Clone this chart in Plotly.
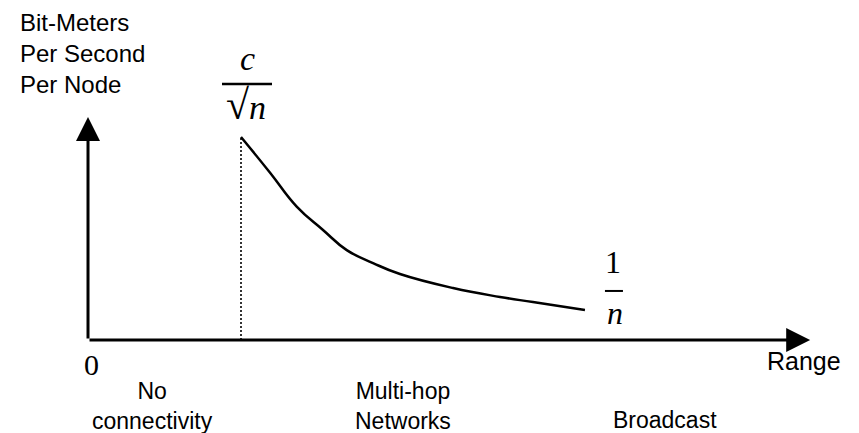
import plotly.graph_objects as go

# ---- data (normalised units: Range, throughput) ----
range_vals = [1.0, 1.19, 1.364, 1.536, 1.691, 1.863, 2.039, 2.386, 2.693, 2.908, 3.248]
throughput_vals = [1.0, 0.824, 0.657, 0.542, 0.443, 0.379, 0.325, 0.256, 0.212, 0.187, 0.148]
x_axis_end = 4.72      # tip of the Range arrow
y_axis_end = 1.0985    # tip of the throughput arrow
regime_labels = ["No<br>connectivity", "Multi-hop<br>Networks", "Broadcast"]
regime_x = [0.42, 2.06, 3.77]
y_label = "Bit-Meters<br>Per Second<br>Per Node"
x_label = "Range"

SANS = "Liberation Sans, Arial, Helvetica, sans-serif"
SERIF = "Liberation Serif, Times New Roman, serif"
BLACK = "#000000"

fig = go.Figure()

# dotted connectivity threshold
fig.add_trace(go.Scatter(x=[range_vals[0], range_vals[0]], y=[0, throughput_vals[0]],
                         mode="lines", line=dict(color="#333333", width=2, dash="2px,2px"),
                         hoverinfo="skip", showlegend=False))
# throughput curve
fig.add_trace(go.Scatter(x=range_vals, y=throughput_vals, mode="lines",
                         line=dict(color=BLACK, width=2.5, shape="spline", smoothing=1.3),
                         hoverinfo="skip", showlegend=False))

ann = []
# axes with arrowheads
for (tx, ty) in [(x_axis_end, 0), (0, y_axis_end)]:
    ann.append(dict(x=tx, y=ty, ax=0, ay=0, xref="x", yref="y", axref="x", ayref="y",
                    text="", showarrow=True, arrowhead=2, arrowsize=1.6, arrowwidth=3,
                    arrowcolor=BLACK, standoff=0))

# y label (top-left)
ann.append(dict(x=0, y=y_axis_end, xref="x", yref="y", text=y_label, showarrow=False,
                xanchor="left", yanchor="bottom", align="left", xshift=-70, yshift=17,
                font=dict(family=SANS, size=24, color=BLACK)))
# origin label
ann.append(dict(x=0, y=0, xref="x", yref="y", text="0", showarrow=False,
                xanchor="center", yanchor="middle", xshift=3, yshift=-24,
                font=dict(family=SERIF, size=30, color=BLACK)))
# Range label
ann.append(dict(x=x_axis_end, y=0, xref="x", yref="y", text=x_label, showarrow=False,
                xanchor="center", yanchor="middle", xshift=-6, yshift=-21,
                font=dict(family=SANS, size=25, color=BLACK)))

# c / sqrt(n) label at the start of the curve
x0c, y0c = range_vals[0], throughput_vals[0]
ann.append(dict(x=x0c, y=y0c, xref="x", yref="y", text="<i>c</i>", showarrow=False,
                xanchor="center", yanchor="middle", xshift=6, yshift=79,
                font=dict(family=SERIF, size=34, color=BLACK)))
ann.append(dict(x=x0c, y=y0c, xref="x", yref="y",
                text="<b><span style='font-size:42px'>√</span></b><i>n</i>", showarrow=False,
                xanchor="center", yanchor="middle", xshift=5, yshift=32,
                font=dict(family=SERIF, size=34, color=BLACK)))

# 1 / n label at the end of the curve
x1c, y1c = range_vals[-1], throughput_vals[-1]
ann.append(dict(x=x1c, y=y1c, xref="x", yref="y", text="1", showarrow=False,
                xanchor="center", yanchor="middle", xshift=28, yshift=48,
                font=dict(family=SERIF, size=32, color=BLACK)))
ann.append(dict(x=x1c, y=y1c, xref="x", yref="y", text="<i>n</i>", showarrow=False,
                xanchor="center", yanchor="middle", xshift=30, yshift=-3,
                font=dict(family=SERIF, size=32, color=BLACK)))

# regime labels along the bottom (last one sits on the second text line)
for lab, xv in zip(regime_labels, regime_x):
    ann.append(dict(x=xv, y=0, xref="x", yref="y", text=lab, showarrow=False,
                    xanchor="center", yanchor="top", yshift=-36 if "<br>" in lab else -65,
                    font=dict(family=SANS, size=23, color=BLACK)))

shapes = [
    # fraction bar of c/sqrt(n)
    dict(type="line", xref="x", yref="y", xsizemode="pixel", ysizemode="pixel",
         xanchor=x0c, yanchor=y0c, x0=-19, x1=31, y0=53, y1=53,
         line=dict(color=BLACK, width=2.5)),
    # fraction bar of 1/n
    dict(type="line", xref="x", yref="y", xsizemode="pixel", ysizemode="pixel",
         xanchor=x1c, yanchor=y1c, x0=20, x1=38, y0=19, y1=19,
         line=dict(color=BLACK, width=2)),
]

fig.update_layout(
    width=859, height=433, autosize=False,
    margin=dict(l=0, r=0, t=0, b=0),
    paper_bgcolor="white", plot_bgcolor="white",
    xaxis=dict(range=[-0.5752, 5.0392], visible=False, fixedrange=True),
    yaxis=dict(range=[-0.4581, 1.6749], visible=False, fixedrange=True),
    annotations=ann, shapes=shapes, showlegend=False,
)

fig.write_html("out.html", config={"displayModeBar": False},
               post_script="document.body.style.margin='0';document.body.style.overflow='hidden';")
